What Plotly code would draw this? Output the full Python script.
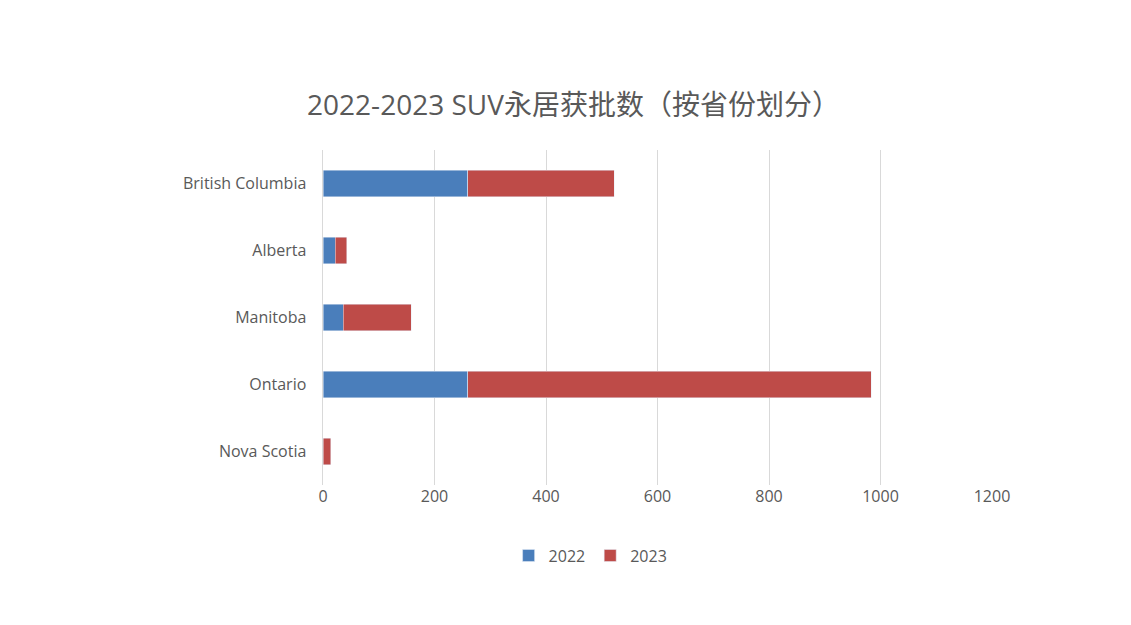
import plotly.graph_objects as go

provinces = ["British Columbia", "Alberta", "Manitoba", "Ontario", "Nova Scotia"]
v2022 = [260, 22, 36, 260, 0]
v2023 = [262, 21, 122, 723, 14]
xticks = [0, 200, 400, 600, 800, 1000, 1200]

fig = go.Figure()
fig.add_bar(y=provinces, x=v2022, name="2022", orientation="h", marker_color="#4a7ebb", width=0.4)
fig.add_bar(y=provinces, x=v2023, name="2023", orientation="h", marker_color="#be4b48", width=0.4)
fig.update_layout(
    barmode="stack", width=1131, height=625, paper_bgcolor="white", plot_bgcolor="white",
    font=dict(family="Open Sans, Noto Sans CJK SC", color="#595959", size=16),
    title=dict(text="2022-2023 SUV永居获批数（按省份划分）", x=0.5, y=0.86, xanchor="center",
               font=dict(size=28, color="#595959", family="Open Sans, Noto Sans CJK SC")),
    margin=dict(l=315, r=147, t=142, b=148),
    xaxis=dict(range=[0, 1200], tickvals=xticks, showgrid=True, gridcolor="#d9d9d9", zeroline=False,
               ticks="", tickfont=dict(size=16)),
    yaxis=dict(autorange="reversed", showgrid=False, ticks="", ticksuffix="   ",
               showline=True, linecolor="#d9d9d9", tickfont=dict(size=16)),
    legend=dict(orientation="h", traceorder="normal", x=0.40, xanchor="center", y=-0.16, yanchor="top",
                font=dict(size=16)),
)
fig.update_yaxes(automargin=False)
fig.write_html("out.html")
